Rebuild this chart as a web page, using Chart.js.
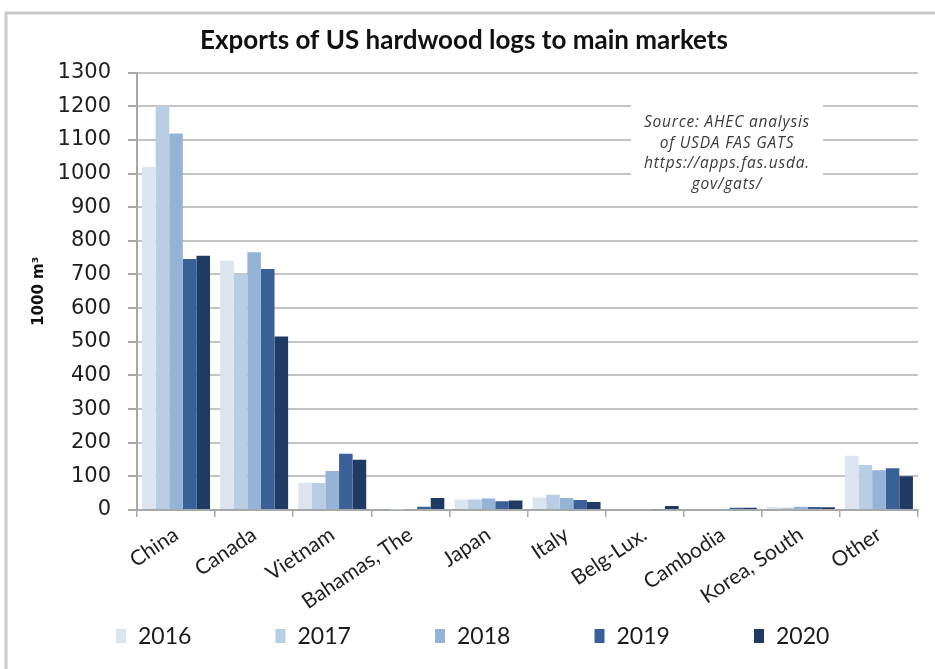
<!doctype html>
<html lang="en">
<head>
<meta charset="utf-8">
<title>Exports of US hardwood logs</title>
<script src="https://cdn.jsdelivr.net/npm/chart.js@4/dist/chart.umd.min.js"></script>
<style>
  html, body { margin: 0; padding: 0; background: #fff; }
  #box { width: 935px; height: 669px; }
</style>
</head>
<body>
<div id="box"><canvas id="logs"></canvas></div>

<script>
// export volumes, 1000 m3, per market and year
var markets = ["China", "Canada", "Vietnam", "Bahamas, The", "Japan", "Italy",
               "Belg-Lux.", "Cambodia", "Korea, South", "Other"];
var years = ["2016", "2017", "2018", "2019", "2020"];
var v2016 = [1020, 741,  81,  0, 31, 37,  0, 0,  8, 161];
var v2017 = [1200, 700,  80,  1, 31, 45,  0, 0,  7, 134];
var v2018 = [1119, 766, 116,  3, 34, 36,  0, 1, 10, 118];
var v2019 = [ 746, 716, 167, 10, 26, 30,  2, 7,  9, 124];
var v2020 = [ 756, 516, 149, 36, 28, 24, 12, 7,  8, 100];
var yTicks = [0, 100, 200, 300, 400, 500, 600, 700, 800, 900, 1000, 1100, 1200, 1300];

var colours = ["#dce4f0", "#b9cde5", "#95b3d7", "#3a6197", "#1f3b64"];
var sourceLines = ["Source: AHEC analysis", "of USDA FAS GATS",
                   "https://apps.fas.usda.", "gov/gats/"];

// white page + light grey frame on top and left
var framePlugin = {
    id: "frame",
    beforeDraw: function (chart) {
        var c = chart.ctx;
        c.save();
        c.fillStyle = "#fff";
        c.fillRect(0, 0, chart.width, chart.height);
        c.strokeStyle = "#c9c9c9";
        c.lineWidth = 3;
        c.beginPath();
        c.moveTo(6, chart.height);
        c.lineTo(6, 13);
        c.lineTo(chart.width, 13);
        c.stroke();
        c.restore();
    }
};

// source note sits on a white patch over the grid
var sourcePlugin = {
    id: "source",
    beforeDatasetsDraw: function (chart) {
        var c = chart.ctx;
        c.save();
        c.fillStyle = "#fff";
        c.fillRect(631, 98, 192, 96);
        c.fillStyle = "#3a3a3a";
        c.font = "italic 15.5px 'Open Sans'";
        c.letterSpacing = "0.8px";
        c.textAlign = "center";
        c.textBaseline = "middle";
        sourceLines.forEach(function (t, i) {
            c.fillText(t, 727, 123 + i * 20.5);
        });
        c.restore();
    }
};

// legend row along the bottom, spaced wide like the original
var legendPlugin = {
    id: "wideLegend",
    afterDraw: function (chart) {
        var c = chart.ctx;
        c.save();
        c.font = "23px Lato";
        c.textBaseline = "middle";
        chart.data.datasets.forEach(function (ds, i) {
            var x = 116 + i * 159.5;
            c.fillStyle = ds.backgroundColor;
            c.fillRect(x, 629, 10, 14);
            c.fillStyle = "#1a1a1a";
            c.fillText(ds.label, x + 22, 637);
        });
        c.restore();
    }
};

var series = [v2016, v2017, v2018, v2019, v2020];

new Chart("logs", {
    type: "bar",
    data: {
        labels: markets,
        datasets: years.map(function (y, i) {
            return {
                label: y,
                data: series[i],
                backgroundColor: colours[i],
                borderWidth: 0,
                categoryPercentage: 0.87,
                barPercentage: 1.0
            };
        })
    },
    options: {
        responsive: true,
        maintainAspectRatio: false,
        animation: false,
        layout: { padding: { top: 12, left: 10, right: 17, bottom: 49 } },
        plugins: {
            legend: { display: false },
            tooltip: { enabled: false },
            title: {
                display: true,
                text: "Exports of US hardwood logs to main markets",
                color: "#111",
                font: { family: "Lato", size: 26, weight: "bold", lineHeight: 1.1 },
                padding: { top: 14, bottom: 18 }
            }
        },
        scales: {
            x: {
                grid: { drawOnChartArea: false, drawTicks: true, tickLength: 7,
                        color: "#a8a8a8", lineWidth: 1.5, offset: true },
                border: { color: "#a8a8a8", width: 2 },
                ticks: {
                    color: "#1f1f1f",
                    font: { family: "Lato", size: 21 },
                    minRotation: 34,
                    maxRotation: 34,
                    padding: 5,
                    autoSkip: false
                },
                afterFit: function (s) { s.height = 110; }
            },
            y: {
                min: 0,
                max: 1300,
                afterBuildTicks: function (s) {
                    s.ticks = yTicks.map(function (v) { return { value: v }; });
                },
                grid: { color: "#c4c4c4", lineWidth: 2, tickLength: 9,
                        tickColor: "#a8a8a8" },
                border: { color: "#a8a8a8", width: 2 },
                ticks: {
                    color: "#1f1f1f",
                    font: { family: "DejaVu Sans", size: 21 },
                    padding: 17,
                    callback: function (v) { return String(v); }
                },
                title: {
                    display: true,
                    text: "1000 m³",
                    color: "#111",
                    font: { family: "DejaVu Sans", size: 15, weight: "bold" },
                    padding: { top: 20, bottom: 0 }
                },
                afterFit: function (s) { s.width = 127; }
            }
        }
    },
    plugins: [framePlugin, sourcePlugin, legendPlugin]
});
</script>
</body>
</html>
